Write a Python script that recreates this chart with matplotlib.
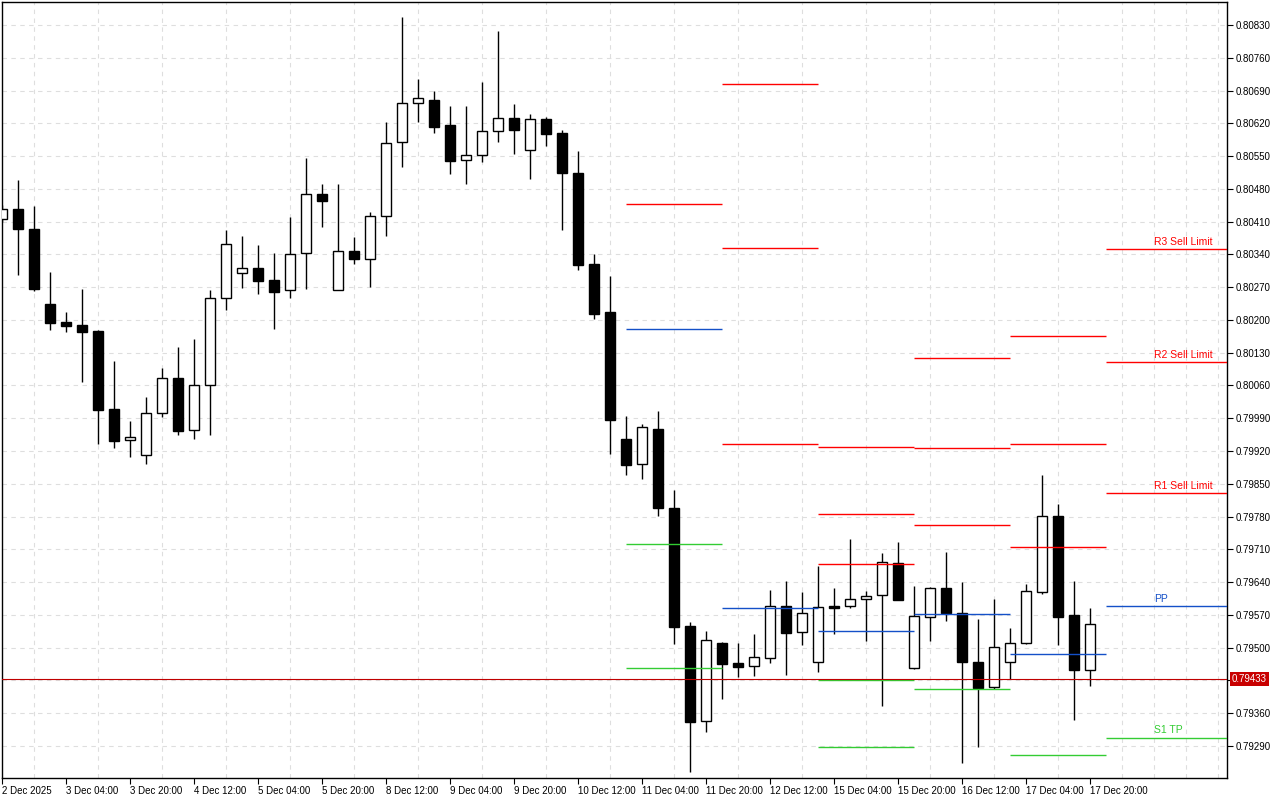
import matplotlib
matplotlib.use("Agg")
import matplotlib.pyplot as plt
import matplotlib.transforms as mtransforms
import numpy as np
import pandas as pd

# H4 candles from 2 Dec 12:00 to 17 Dec 20:00
opens = [0.80415, 0.80436, 0.80394, 0.80234, 0.80196, 0.80189, 0.80176, 0.80010, 0.79943, 0.79911,
         0.80001, 0.80075, 0.79964, 0.80060, 0.80246, 0.80300, 0.80310, 0.80285, 0.80263, 0.80342,
         0.80470, 0.80265, 0.80347, 0.80330, 0.80421, 0.80579, 0.80663, 0.80670, 0.80616, 0.80541,
         0.80552, 0.80603, 0.80631, 0.80562, 0.80629, 0.80599, 0.80514, 0.80319, 0.80217, 0.79946,
         0.79892, 0.79967, 0.79798, 0.79546, 0.79343, 0.79510, 0.79467, 0.79460, 0.79477, 0.79590,
         0.79533, 0.79469, 0.79589, 0.79588, 0.79603, 0.79612, 0.79680, 0.79457, 0.79565, 0.79627,
         0.79573, 0.79469, 0.79417, 0.79469, 0.79509, 0.79619, 0.79781, 0.79570, 0.79452]
highs = [0.80445, 0.80499, 0.80443, 0.80302, 0.80217, 0.80266, 0.80178, 0.80112, 0.79984, 0.80035,
         0.80097, 0.80142, 0.80159, 0.80264, 0.80392, 0.80379, 0.80360, 0.80344, 0.80420, 0.80546,
         0.80490, 0.80490, 0.80377, 0.80431, 0.80622, 0.80847, 0.80715, 0.80689, 0.80657, 0.80657,
         0.80708, 0.80817, 0.80661, 0.80640, 0.80634, 0.80606, 0.80561, 0.80340, 0.80294, 0.79995,
         0.79978, 0.80006, 0.79837, 0.79555, 0.79536, 0.79512, 0.79510, 0.79529, 0.79623, 0.79642,
         0.79619, 0.79674, 0.79627, 0.79732, 0.79621, 0.79702, 0.79726, 0.79632, 0.79630, 0.79704,
         0.79640, 0.79561, 0.79604, 0.79542, 0.79635, 0.79869, 0.79807, 0.79642, 0.79584]
lows = [0.80410, 0.80295, 0.80262, 0.80178, 0.80174, 0.80068, 0.79936, 0.79927, 0.79908, 0.79893,
        0.79993, 0.79955, 0.79946, 0.79955, 0.80222, 0.80269, 0.80255, 0.80181, 0.80246, 0.80267,
        0.80399, 0.80264, 0.80320, 0.80271, 0.80380, 0.80527, 0.80623, 0.80600, 0.80512, 0.80491,
        0.80538, 0.80581, 0.80554, 0.80502, 0.80572, 0.80393, 0.80307, 0.80203, 0.79914, 0.79869,
        0.79861, 0.79782, 0.79508, 0.79235, 0.79320, 0.79391, 0.79438, 0.79440, 0.79468, 0.79442,
        0.79506, 0.79449, 0.79530, 0.79585, 0.79515, 0.79376, 0.79601, 0.79455, 0.79515, 0.79558,
        0.79254, 0.79288, 0.79412, 0.79432, 0.79508, 0.79615, 0.79506, 0.79346, 0.79419]
closes = [0.80438, 0.80395, 0.80267, 0.80194, 0.80188, 0.80175, 0.80008, 0.79942, 0.79949, 0.80001,
          0.80077, 0.79963, 0.80060, 0.80246, 0.80362, 0.80310, 0.80284, 0.80260, 0.80340, 0.80470,
          0.80455, 0.80347, 0.80331, 0.80421, 0.80577, 0.80663, 0.80673, 0.80613, 0.80540, 0.80552,
          0.80603, 0.80631, 0.80606, 0.80629, 0.80598, 0.80513, 0.80318, 0.80213, 0.79987, 0.79891,
          0.79971, 0.79799, 0.79545, 0.79342, 0.79516, 0.79466, 0.79459, 0.79479, 0.79588, 0.79532,
          0.79573, 0.79586, 0.79585, 0.79603, 0.79610, 0.79682, 0.79602, 0.79568, 0.79627, 0.79575,
          0.79470, 0.79414, 0.79501, 0.79509, 0.79620, 0.79781, 0.79566, 0.79453, 0.79551]

# daily pivot levels (nan = off the visible range)
nan = np.nan
pivot_days = ["2025-12-11", "2025-12-12", "2025-12-15", "2025-12-16", "2025-12-17", "2025-12-18"]
r3 = [nan, 0.80703, 0.79929, 0.80118, 0.80165, 0.80352]
r2 = [nan, 0.80354, 0.79785, 0.79926, 0.79934, 0.80110]
r1 = [0.80448, 0.79935, 0.79678, 0.79763, 0.79716, 0.79830]
pp = [0.80180, 0.79584, 0.79535, 0.79571, 0.79486, 0.79589]
s1 = [0.79721, nan, 0.79430, 0.79411, 0.79270, 0.79308]
s2 = [0.79456, nan, 0.79287, nan, nan, nan]
level_names = ["R3 Sell Limit", "R2 Sell Limit", "R1 Sell Limit", "PP", "S1 TP"]

bid = 0.79433

time_labels = ["2 Dec 2025", "3 Dec 04:00", "3 Dec 20:00", "4 Dec 12:00", "5 Dec 04:00",
               "5 Dec 20:00", "8 Dec 12:00", "9 Dec 04:00", "9 Dec 20:00", "10 Dec 12:00",
               "11 Dec 04:00", "11 Dec 20:00", "12 Dec 12:00", "15 Dec 04:00", "15 Dec 20:00",
               "16 Dec 12:00", "17 Dec 04:00", "17 Dec 20:00"]

plt.rcParams['font.family'] = ['Liberation Sans', 'DejaVu Sans']

RED = '#ff0000'
BLUE = '#1450c8'
GREEN = '#33cc33'

times = pd.date_range("2025-12-02 12:00", "2025-12-17 20:00", freq="4h")
times = times[times.dayofweek < 5]
x = np.arange(len(times))
o = np.array(opens); h = np.array(highs); l = np.array(lows); c = np.array(closes)

x_right = 76.56
y_lo, y_hi = 0.792216, 0.808791

fig = plt.figure(figsize=(12.8, 8), dpi=100)
ax = fig.add_axes([2 / 1280, 22 / 800, 1225 / 1280, 776 / 800])
ax.set_xlim(0, x_right)
ax.set_ylim(y_lo, y_hi)

# grid + ticks (the price label hidden under the bid tag is left blank)
yt = np.round(np.arange(0.79290, 0.80831, 0.0007), 5)
ax.set_yticks(yt)
ax.set_yticklabels(["" if abs(v - bid) < 0.0002 else "%.5f" % v for v in yt])
ax.set_xticks(np.arange(0, 77, 2), minor=True)
ax.set_xticks(np.arange(0, len(time_labels) * 4, 4))
ax.set_xticklabels(time_labels)
for lbl in ax.get_xticklabels():
    lbl.set_ha('left')
ax.grid(which='minor', axis='x', color='#dedede', linestyle=(0, (4, 4)), linewidth=0.8)
ax.grid(which='major', axis='y', color='#dedede', linestyle=(0, (4, 4)), linewidth=0.8)
ax.set_axisbelow(True)

ax.yaxis.tick_right()
ax.tick_params(axis='y', direction='out', length=4, pad=2, labelsize=7, width=0.8)
ax.tick_params(axis='x', which='major', direction='out', length=4, pad=2, labelsize=7, width=0.8)
ax.tick_params(axis='x', which='minor', length=0)
for sp in ax.spines.values():
    sp.set_linewidth(1.0)

# candles
ax.vlines(x, l, h, color='black', linewidth=1.0, zorder=2)
up = c >= o
body_w = 0.64
ax.bar(x[up], c[up] - o[up], bottom=o[up], width=body_w, color='white',
       edgecolor='black', linewidth=1.0, zorder=3)
ax.bar(x[~up], o[~up] - c[~up], bottom=c[~up], width=body_w, color='black',
       edgecolor='black', linewidth=1.0, zorder=3)

# pivot segments
starts = [int(np.searchsorted(times, pd.Timestamp(d))) for d in pivot_days]
ends = starts[1:] + [x_right]
levels = [r3, r2, r1, pp, s1, s2]
colors = [RED, RED, RED, BLUE, GREEN, GREEN]
for vals, col in zip(levels, colors):
    for s, e, v in zip(starts, ends, vals):
        if not np.isnan(v):
            ax.hlines(v, s, e, color=col, linewidth=1.0, zorder=4)

# labels on the current day
for name, vals, col in zip(level_names, levels[:5], colors[:5]):
    ax.annotate(name, (72, vals[-1]), xytext=(0, 1.5), textcoords='offset points',
                ha='left', va='bottom', fontsize=7.5, color=col, zorder=5)

# bid line and price tag
ax.axhline(bid, color='#c00000', linewidth=0.8, zorder=4)
trans = mtransforms.blended_transform_factory(ax.transAxes, ax.transData)
ax.text(1.004, bid, "%.5f" % bid, transform=trans, ha='left', va='center', fontsize=7,
        color='white', clip_on=False, zorder=10,
        bbox=dict(boxstyle='square,pad=0.2', facecolor='#c80000', edgecolor='none'))

fig.savefig("out.png", dpi=100, facecolor='white')
